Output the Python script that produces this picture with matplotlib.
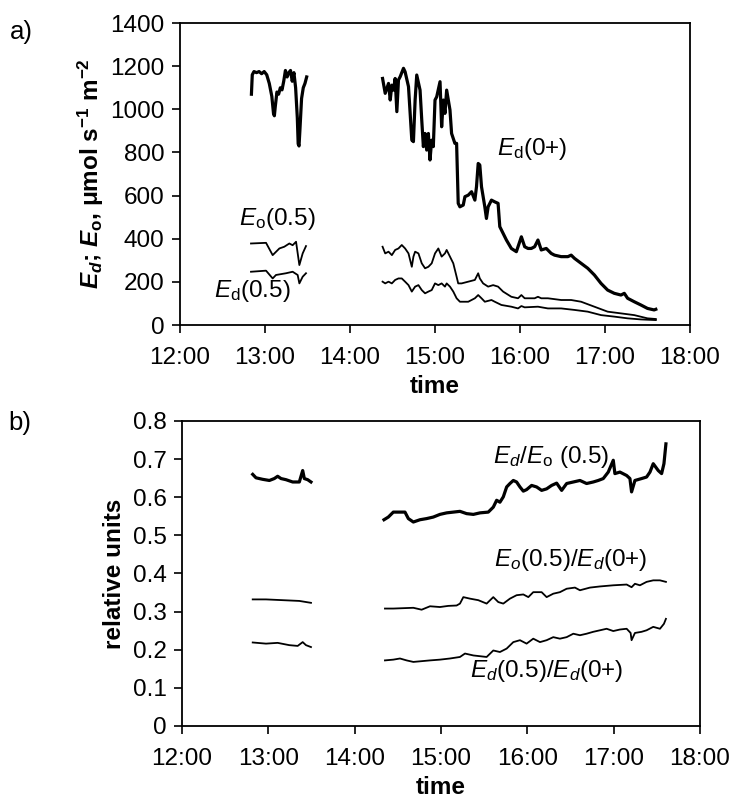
import numpy as np
import matplotlib
matplotlib.use("Agg")
import matplotlib.pyplot as plt

plt.rcParams["font.family"] = ["Liberation Sans", "DejaVu Sans"]
plt.rcParams["mathtext.fontset"] = "custom"
plt.rcParams["mathtext.rm"] = "Liberation Sans"
plt.rcParams["mathtext.it"] = "Liberation Sans:italic"
plt.rcParams["mathtext.bf"] = "Liberation Sans:bold"
plt.rcParams["mathtext.bfit"] = "Liberation Sans:bold:italic"

# ---- panel a: irradiance (umol s-1 m-2), time in decimal hours ----
t_ed0_1 = [12.84, 12.85, 12.87, 12.90, 12.93, 12.96, 12.99, 13.02, 13.05, 13.08,
           13.10, 13.11, 13.12, 13.14, 13.16, 13.18, 13.20, 13.22, 13.24, 13.26,
           13.28, 13.30, 13.32, 13.34, 13.36, 13.38, 13.39, 13.40, 13.41, 13.43,
           13.45, 13.47, 13.49]
ed0_1 = [1070, 1160, 1175, 1170, 1175, 1165, 1175, 1160, 1120, 1060,
         980, 970, 1010, 1080, 1070, 1100, 1090, 1130, 1180, 1150,
         1170, 1180, 1130, 1170, 1100, 960, 840, 830, 900, 1050,
         1100, 1120, 1150]

t_ed0_2 = [14.383, 14.414, 14.453, 14.473, 14.492, 14.512, 14.531, 14.551, 14.570, 14.590,
           14.629, 14.648, 14.688, 14.727, 14.746, 14.766, 14.785, 14.824, 14.844, 14.863,
           14.883, 14.902, 14.922, 14.941, 14.961, 14.980, 15.000, 15.020, 15.059, 15.078,
           15.098, 15.117, 15.137, 15.176, 15.195, 15.234, 15.254, 15.273, 15.293, 15.332,
           15.352, 15.391, 15.430, 15.469, 15.488, 15.508, 15.527, 15.547, 15.586, 15.605,
           15.625, 15.664, 15.703, 15.742, 15.762, 15.801, 15.840, 15.898, 15.957, 16.016,
           16.055, 16.094, 16.133, 16.172, 16.211, 16.250, 16.309, 16.367, 16.406, 16.484,
           16.563, 16.602, 16.641, 16.719, 16.797, 16.875, 16.953, 17.031, 17.109, 17.188,
           17.227, 17.266, 17.344, 17.422, 17.500, 17.578, 17.598]
ed0_2 = [1143, 1074, 1120, 1043, 1112, 1089, 1143, 989, 1136, 1151,
         1190, 1174, 1105, 857, 850, 1043, 1159, 1089, 950, 827,
         888, 811, 888, 765, 857, 827, 1043, 1058, 1128, 919,
         1043, 981, 1089, 997, 888, 842, 842, 564, 548, 556,
         595, 602, 618, 579, 641, 749, 742, 641, 548, 494,
         548, 579, 571, 564, 456, 425, 394, 355, 340, 409,
         363, 355, 355, 363, 394, 348, 355, 332, 324, 317,
         317, 324, 309, 286, 263, 232, 193, 162, 147, 139,
         147, 124, 108, 93, 77, 70, 73]

t_eo5_1 = [12.835, 13.012, 13.090, 13.169, 13.227, 13.286, 13.325, 13.365, 13.404, 13.443, 13.482]
eo5_1 = [378, 381, 324, 355, 363, 378, 370, 386, 278, 332, 366]

t_eo5_2 = [14.383, 14.414, 14.453, 14.492, 14.531, 14.570, 14.609, 14.648, 14.688, 14.727,
           14.746, 14.766, 14.805, 14.844, 14.883, 14.922, 14.961, 15.000, 15.039, 15.078,
           15.117, 15.137, 15.176, 15.215, 15.254, 15.273, 15.313, 15.391, 15.469, 15.508,
           15.527, 15.566, 15.625, 15.684, 15.742, 15.801, 15.898, 15.977, 16.016, 16.055,
           16.172, 16.211, 16.250, 16.328, 16.484, 16.602, 16.719, 16.875, 17.031, 17.188,
           17.344, 17.500, 17.598]
eo5_2 = [363, 332, 340, 324, 348, 355, 371, 355, 332, 270,
         317, 340, 332, 286, 263, 270, 286, 332, 355, 317,
         332, 348, 317, 286, 224, 193, 193, 201, 209, 240,
         216, 193, 178, 185, 178, 155, 131, 124, 139, 124,
         124, 131, 124, 124, 116, 116, 108, 85, 62, 54,
         46, 31, 28]

t_ed5_1 = [12.835, 13.012, 13.090, 13.129, 13.247, 13.325, 13.384, 13.404, 13.443, 13.482]
ed5_1 = [247, 252, 216, 232, 240, 247, 232, 193, 224, 240]

t_ed5_2 = [14.383, 14.414, 14.453, 14.492, 14.531, 14.570, 14.609, 14.648, 14.688, 14.727,
           14.766, 14.805, 14.844, 14.883, 14.922, 14.961, 15.000, 15.039, 15.078, 15.117,
           15.137, 15.176, 15.215, 15.254, 15.293, 15.391, 15.469, 15.508, 15.547, 15.586,
           15.664, 15.703, 15.781, 15.898, 15.977, 16.016, 16.055, 16.211, 16.328, 16.484,
           16.641, 16.797, 16.953, 17.109, 17.266, 17.422, 17.598]
ed5_2 = [201, 193, 201, 193, 209, 216, 216, 201, 185, 155,
         178, 185, 162, 147, 155, 162, 193, 185, 193, 178,
         193, 178, 155, 124, 108, 108, 124, 139, 124, 108,
         116, 108, 93, 85, 77, 88, 82, 85, 77, 77,
         70, 62, 46, 39, 31, 26, 23]

# ---- panel b: ratios ----
t_r1_1 = [12.819, 12.857, 12.934, 13.012, 13.069, 13.108, 13.147, 13.205, 13.282, 13.359,
          13.398, 13.417, 13.456, 13.494]
r1_1 = [0.660, 0.651, 0.647, 0.644, 0.649, 0.655, 0.649, 0.646, 0.640, 0.640,
        0.670, 0.649, 0.646, 0.640]

t_r1_2 = [14.340, 14.390, 14.448, 14.525, 14.583, 14.622, 14.680, 14.757, 14.834, 14.911,
          14.988, 15.066, 15.143, 15.220, 15.297, 15.375, 15.452, 15.548, 15.606, 15.645,
          15.683, 15.722, 15.761, 15.799, 15.838, 15.876, 15.915, 15.954, 15.992, 16.050,
          16.108, 16.166, 16.224, 16.282, 16.340, 16.398, 16.456, 16.533, 16.610, 16.687,
          16.764, 16.822, 16.880, 16.938, 16.996, 17.015, 17.073, 17.151, 17.189, 17.208,
          17.247, 17.324, 17.382, 17.421, 17.459, 17.517, 17.556, 17.583, 17.606]
r1_2 = [0.541, 0.548, 0.561, 0.561, 0.561, 0.544, 0.535, 0.541, 0.544, 0.548,
        0.555, 0.559, 0.561, 0.563, 0.557, 0.555, 0.559, 0.561, 0.574, 0.592,
        0.587, 0.601, 0.627, 0.636, 0.644, 0.640, 0.627, 0.616, 0.620, 0.631,
        0.627, 0.618, 0.622, 0.631, 0.637, 0.618, 0.636, 0.640, 0.644, 0.636,
        0.640, 0.644, 0.649, 0.666, 0.697, 0.662, 0.666, 0.657, 0.649, 0.614,
        0.644, 0.649, 0.653, 0.666, 0.688, 0.670, 0.662, 0.688, 0.740]

t_r2_1 = [12.819, 12.973, 13.166, 13.359, 13.494]
r2_1 = [0.332, 0.332, 0.330, 0.328, 0.323]

t_r2_2 = [14.351, 14.448, 14.564, 14.680, 14.776, 14.873, 14.988, 15.085, 15.181, 15.220,
          15.259, 15.336, 15.432, 15.529, 15.606, 15.664, 15.722, 15.799, 15.876, 15.954,
          16.012, 16.069, 16.166, 16.224, 16.301, 16.378, 16.456, 16.552, 16.610, 16.726,
          16.842, 16.996, 17.151, 17.208, 17.247, 17.305, 17.382, 17.459, 17.537, 17.606]
r2_2 = [0.308, 0.308, 0.309, 0.310, 0.305, 0.314, 0.312, 0.315, 0.316, 0.321,
        0.338, 0.334, 0.330, 0.321, 0.338, 0.325, 0.321, 0.334, 0.343, 0.345,
        0.338, 0.351, 0.351, 0.338, 0.347, 0.351, 0.360, 0.363, 0.356, 0.363,
        0.366, 0.369, 0.371, 0.364, 0.373, 0.369, 0.378, 0.382, 0.382, 0.378]

t_r3_1 = [12.819, 12.973, 13.108, 13.243, 13.340, 13.398, 13.436, 13.494]
r3_1 = [0.219, 0.216, 0.218, 0.212, 0.210, 0.220, 0.212, 0.207]

t_r3_2 = [14.351, 14.448, 14.525, 14.602, 14.680, 14.776, 14.873, 14.988, 15.104, 15.220,
          15.278, 15.375, 15.452, 15.529, 15.606, 15.683, 15.761, 15.838, 15.915, 15.992,
          16.069, 16.147, 16.224, 16.301, 16.378, 16.456, 16.533, 16.610, 16.687, 16.764,
          16.842, 16.919, 16.996, 17.073, 17.151, 17.197, 17.208, 17.247, 17.324, 17.382,
          17.459, 17.537, 17.583, 17.606]
r3_2 = [0.172, 0.174, 0.177, 0.172, 0.168, 0.170, 0.172, 0.174, 0.177, 0.181,
        0.190, 0.185, 0.183, 0.181, 0.198, 0.194, 0.203, 0.220, 0.225, 0.216,
        0.229, 0.220, 0.225, 0.233, 0.229, 0.233, 0.242, 0.238, 0.242, 0.247,
        0.251, 0.255, 0.249, 0.253, 0.255, 0.244, 0.225, 0.244, 0.247, 0.251,
        0.260, 0.255, 0.268, 0.281]

hours = [12, 13, 14, 15, 16, 17, 18]
hour_labels = [f"{h}:00" for h in hours]

FS = 17.5
thick = 2.3
thin = 1.3

fig = plt.figure(figsize=(7.36, 7.99), dpi=100)
ax1 = fig.add_axes([0.2446, 0.5932, 0.6929, 0.378])
ax2 = fig.add_axes([0.2473, 0.0914, 0.7037, 0.3817])


def style(ax):
    ax.set_xlim(12, 18)
    ax.set_xticks(hours)
    ax.set_xticklabels(hour_labels)
    for s in ax.spines.values():
        s.set_linewidth(1.3)
    ax.tick_params(axis="x", direction="out", length=6, width=1.2, pad=10, labelsize=FS)
    ax.tick_params(axis="y", direction="out", length=6, width=1.2, pad=5, labelsize=FS)
    ax.set_xlabel("time", fontsize=FS, fontweight="bold", labelpad=4)


# panel a
for t, v, lw in [(t_ed0_1, ed0_1, thick), (t_ed0_2, ed0_2, thick),
                 (t_eo5_1, eo5_1, thin), (t_eo5_2, eo5_2, thin),
                 (t_ed5_1, ed5_1, thin), (t_ed5_2, ed5_2, thin)]:
    ax1.plot(t, v, color="black", lw=lw, solid_joinstyle="round")
style(ax1)
ax1.set_ylim(0, 1400)
ax1.set_yticks(range(0, 1401, 200))
ax1.set_ylabel(r"$\mathbfit{E_d}$; $\mathbfit{E}_{\mathbf{o}}$, μmol s$^{\mathbf{-1}}$ m$^{\mathbf{-2}}$",
               fontsize=FS, fontweight="bold", labelpad=3)
ax1.text(13.15, 491, r"$E_{\rm o}$(0.5)", fontsize=FS, ha="center", va="center")
ax1.text(12.85, 158, r"$E_{\rm d}$(0.5)", fontsize=FS, ha="center", va="center")
ax1.text(16.14, 816, r"$E_{\rm d}$(0+)", fontsize=FS, ha="center", va="center")

# panel b
for t, v, lw in [(t_r1_1, r1_1, thick), (t_r1_2, r1_2, thick),
                 (t_r2_1, r2_1, thin), (t_r2_2, r2_2, thin),
                 (t_r3_1, r3_1, thin), (t_r3_2, r3_2, thin)]:
    ax2.plot(t, v, color="black", lw=lw, solid_joinstyle="round")
style(ax2)
ax2.set_ylim(0, 0.8)
yt = np.round(np.arange(0, 0.81, 0.1), 1)
ax2.set_yticks(yt)
ax2.set_yticklabels(["0"] + [f"{v:.1f}" for v in yt[1:]])
ax2.set_ylabel("relative units", fontsize=FS, fontweight="bold", labelpad=5)
ax2.text(16.28, 0.706, r"$E_d/E_{\rm o}$ (0.5)", fontsize=FS, ha="center", va="center")
ax2.text(16.50, 0.436, r"$E_o$(0.5)/$E_d$(0+)", fontsize=FS, ha="center", va="center")
ax2.text(16.22, 0.144, r"$E_d$(0.5)/$E_d$(0+)", fontsize=FS, ha="center", va="center")

fig.text(0.013, 0.975, "a)", fontsize=FS + 1, va="top")
fig.text(0.011, 0.485, "b)", fontsize=FS + 1, va="top")

fig.savefig("out.png", dpi=100)
